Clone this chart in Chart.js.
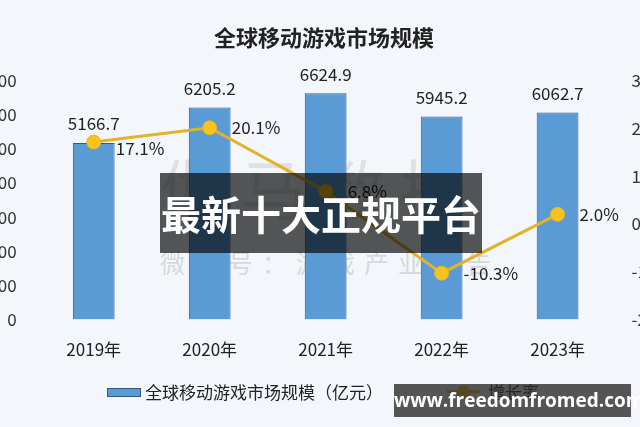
<!DOCTYPE html>
<html>
<head>
<meta charset="utf-8">
<script src="https://cdn.jsdelivr.net/npm/chart.js@4/dist/chart.umd.min.js"></script>
<style>
  html, body { margin: 0; padding: 0; }
  body { width: 640px; height: 427px; overflow: hidden; position: relative; background: #f3f6fb; font-family: "Noto Sans CJK SC", sans-serif; }
  #wrap { position: absolute; left: -43px; top: 0; width: 733px; height: 427px; }
  .wm1 { position: absolute; left: 160px; top: 138px; font-size: 66px; letter-spacing: 14px; color: rgba(160,160,160,0.25); white-space: nowrap; }
  .wm2 { position: absolute; left: 160px; top: 244px; font-size: 25px; letter-spacing: 9px; color: rgba(150,150,150,0.32); white-space: nowrap; }
  .legend { position: absolute; top: 380px; height: 24px; line-height: 24px; font-size: 17px; color: #222; white-space: nowrap; }
  .sw-bar { position: absolute; left: 107px; top: 388px; width: 32px; height: 7px; background: #5b9bd5; border: 1px solid #2d5b88; }
  .sw-line { position: absolute; left: 447px; top: 390px; width: 33px; height: 3px; background: #e2b32a; }
  .sw-dot { position: absolute; left: 456px; top: 385px; width: 14px; height: 14px; border-radius: 50%; background: #f7c320; }
  .ban1 { position: absolute; left: 160px; top: 173px; width: 322px; height: 80px; background: rgba(0,0,0,0.66); color: #fff; font-weight: bold; font-size: 40px; line-height: 80px; text-align: center; white-space: nowrap; }
  .ban2 { position: absolute; left: 394px; top: 384px; width: 237px; height: 33px; background: rgba(40,40,40,0.78); color: #fff; font-family: "Open Sans", sans-serif; font-weight: bold; font-size: 19px; line-height: 33px; text-align: center; white-space: nowrap; }
</style>
</head>
<body>
<div class="wm1">伽马数据</div>
<div class="wm2">微信号：游戏产业报告</div>
<div id="wrap"><canvas id="myChart" width="733" height="427"></canvas></div>
<div class="sw-bar"></div>
<div class="legend" id="lg0" style="left:145px"></div>
<div class="sw-line"></div>
<div class="sw-dot"></div>
<div class="legend" id="lg1" style="left:488px"></div>
<div class="ban1">最新十大正规平台</div>
<div class="ban2">www.freedomfromed.com</div>
<script>
const years = ['2019年', '2020年', '2021年', '2022年', '2023年'];
const marketSize = [5166.7, 6205.2, 6624.9, 5945.2, 6062.7];
const growthRate = [17.1, 20.1, 6.8, -10.3, 2.0];
const seriesNames = ['全球移动游戏市场规模（亿元）', '增长率'];

const fontFam = '"Noto Sans CJK SC", sans-serif';

document.getElementById('lg0').textContent = seriesNames[0];
document.getElementById('lg1').textContent = seriesNames[1];

/* value labels on bars and points */
const valueLabels = {
  id: 'valueLabels',
  afterDatasetsDraw(chart) {
    const ctx = chart.ctx;
    ctx.save();
    ctx.font = '17px ' + fontFam;
    ctx.fillStyle = '#222';
    ctx.textBaseline = 'middle';
    chart.getDatasetMeta(1).data.forEach((bar, i) => {
      ctx.textAlign = 'center';
      ctx.fillText(marketSize[i].toFixed(1), bar.x, bar.y - 19);
    });
    chart.getDatasetMeta(0).data.forEach((pt, i) => {
      ctx.textAlign = 'left';
      ctx.fillText(growthRate[i].toFixed(1) + '%', pt.x + 22, pt.y + (i == 0 ? 6 : 0));
    });
    ctx.restore();
  }
};

const data = {
  labels: years,
  datasets: [{
    type: 'line',
    label: seriesNames[1],
    data: growthRate,
    yAxisID: 'y1',
    borderColor: '#e2b32a',
    backgroundColor: '#f7c320',
    borderWidth: 3,
    pointRadius: 7,
    pointBackgroundColor: '#f7c320',
    pointBorderColor: '#e9b824',
    pointBorderWidth: 1,
    tension: 0
  }, {
    type: 'bar',
    label: seriesNames[0],
    data: marketSize,
    yAxisID: 'y',
    backgroundColor: '#5b9bd5',
    borderColor: '#2d5b88',
    borderWidth: 1,
    categoryPercentage: 1,
    barPercentage: 0.36
  }]
};

const noGrid = { display: false, drawTicks: false };
const tickFont = { family: fontFam, size: 17 };

const config = {
  data: data,
  options: {
    responsive: false,
    animation: false,
    devicePixelRatio: 1,
    layout: { padding: { left: 3, right: 2, top: 0, bottom: 47 } },
    plugins: {
      title: {
        display: true,
        text: '全球移动游戏市场规模',
        color: '#222',
        font: { family: fontFam, size: 22, weight: 'bold' },
        padding: { top: 24, bottom: 30 }
      },
      legend: { display: false },
      tooltip: { enabled: false }
    },
    scales: {
      x: {
        grid: noGrid,
        border: { display: false },
        ticks: { color: '#222', font: tickFont, padding: 20 }
      },
      y: {
        position: 'left',
        min: 0,
        max: 7000,
        grid: noGrid,
        border: { display: false },
        ticks: { stepSize: 1000, color: '#333', font: tickFont, padding: 19,
          callback: v => String(v) }
      },
      y1: {
        position: 'right',
        min: -20,
        max: 30,
        grid: noGrid,
        border: { display: false },
        ticks: { stepSize: 10, color: '#333', font: tickFont, padding: 16,
          callback: v => v + '%' }
      }
    }
  },
  plugins: [valueLabels]
};

const myChart = new Chart(document.getElementById('myChart'), config);
</script>
</body>
</html>
